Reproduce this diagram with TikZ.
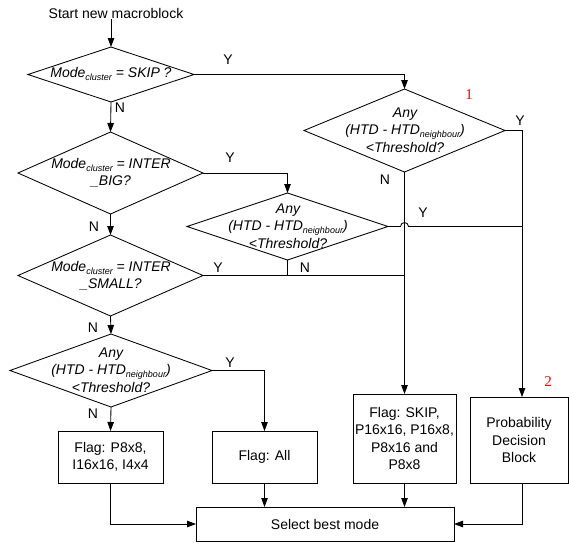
\documentclass[tikz,border=0pt]{standalone}
\usepackage{fontspec}
\setmainfont{Liberation Sans}
\newfontfamily\redserif{Liberation Serif}
\usetikzlibrary{arrows.meta,shapes.geometric}
\newcommand\sbs[1]{\raisebox{-0.35ex}{\fontsize{9}{9}\selectfont #1}}
\begin{document}
\begin{tikzpicture}[x=1pt,y=-1pt,
  line width=0.85pt,
  font=\fontsize{14}{17.5}\selectfont,
  dia/.style={diamond,draw,inner sep=0pt,outer sep=0pt},
  dtext/.style={align=center,inner sep=0pt,font=\fontsize{14}{17.5}\selectfont\itshape},
  box/.style={rectangle,draw,inner sep=0pt,outer sep=0pt,align=center},
  lbl/.style={inner sep=0pt},
  num/.style={inner sep=0pt,text=red,font=\fontsize{15}{15}\selectfont\redserif},
  arr/.style={-{Triangle[length=9pt,width=6.5pt]}}]
\useasboundingbox (0,0) rectangle (569,542);

% start
\node[lbl] (start) at (116,13) {Start new macroblock};

% diamonds
\node[dia,minimum width=166pt,minimum height=55pt] (d1) at (111,74.5) {};
\node[dtext] (d1t) at (111,74) {Mode\sbs{cluster} = SKIP ?};
\node[dia,minimum width=185pt,minimum height=82pt] (d2) at (110.5,173) {};
\node[dtext] (d2t) at (111,173) {Mode\sbs{cluster} = INTER\\\_BIG?};
\node[dia,minimum width=185pt,minimum height=81pt] (d3) at (110.5,275.5) {};
\node[dtext] (d3t) at (111,276) {Mode\sbs{cluster} = INTER\\\_SMALL?};
\node[dia,minimum width=201pt,minimum height=83pt] (d4) at (404.5,130.5) {};
\node[dtext] (d4t) at (405,130) {Any\\(HTD - HTD\sbs{neighbour})\\{<}Threshold?};
\node[dia,minimum width=201pt,minimum height=67pt] (d5) at (287.5,226.5) {};
\node[dtext] (d5t) at (288,226) {Any\\(HTD - HTD\sbs{neighbour})\\{<}Threshold?};
\node[dia,minimum width=202pt,minimum height=73pt] (d6) at (111,370.5) {};
\node[dtext] (d6t) at (111,370) {Any\\(HTD - HTD\sbs{neighbour})\\{<}Threshold?};

% boxes
\node[box,minimum width=105pt,minimum height=52pt] (b1) at (110.5,457) {Flag: P8x8,\\I16x16, I4x4};
\node[box,minimum width=105pt,minimum height=52pt] (b2) at (264.5,457) {Flag: All};
\node[box,minimum width=103pt,minimum height=89pt] (b3) at (404.5,438.5) {Flag: SKIP,\\P16x16, P16x8,\\P8x16 and\\P8x8};
\node[box,minimum width=98pt,minimum height=86pt] (b4) at (519,440) {Probability\\Decision\\Block};
\node[box,minimum width=258pt,minimum height=34pt] (sel) at (325,524) {Select best mode};

\coordinate (b4in) at (522,397);
\coordinate (b4out) at (522,483);
\coordinate (jump) at (d5.east -| d4.south);

% connectors
\draw[arr] (start.south -| d1.north) -- (d1.north);
\draw[arr] (d1.east) -| (d4.north);
\draw[arr] (d1.south) -- (d2.north);
\draw[arr] (d2.east) -| (d5.north);
\draw[arr] (d2.south) -- (d3.north);
\draw[arr] (d3.south) -- (d6.north);
\draw (d3.east) -- (d3.east -| d4.south);
\draw (d5.south) -- (d5.south |- d3.east);
\draw (d5.east) -- ([xshift=-4pt]jump) arc[start angle=180,end angle=0,radius=4pt] -- (d5.east -| b4in);
\draw[arr] (d4.east) -| (b4in);
\draw[arr] (d4.south) -- (b3.north);
\draw[arr] (d6.east) -| (b2.north);
\draw[arr] (d6.south) -- (b1.north);
\draw[arr] (b1.south) |- (sel.west);
\draw[arr] (b2.south) -- (b2.south |- sel.north);
\draw[arr] (b3.south) -- (b3.south |- sel.north);
\draw[arr] (b4out) |- (sel.east);

% labels
\node[lbl] (y1) at (228,60) {Y};
\node[lbl] (n1) at (120,108) {N};
\node[lbl] (y2) at (230,158) {Y};
\node[lbl] (n2) at (94,227) {N};
\node[lbl] (y3) at (218,268) {Y};
\node[lbl] (n3) at (93,328) {N};
\node[lbl] (y4) at (520,121) {Y};
\node[lbl] (n4) at (385,180) {N};
\node[lbl] (y5) at (423,213) {Y};
\node[lbl] (n5) at (305,268) {N};
\node[lbl] (y6) at (230,363) {Y};
\node[lbl] (n6) at (93,414) {N};
\node[num] (one) at (469,95) {1};
\node[num] (two) at (548,382) {2};
\end{tikzpicture}
\end{document}
